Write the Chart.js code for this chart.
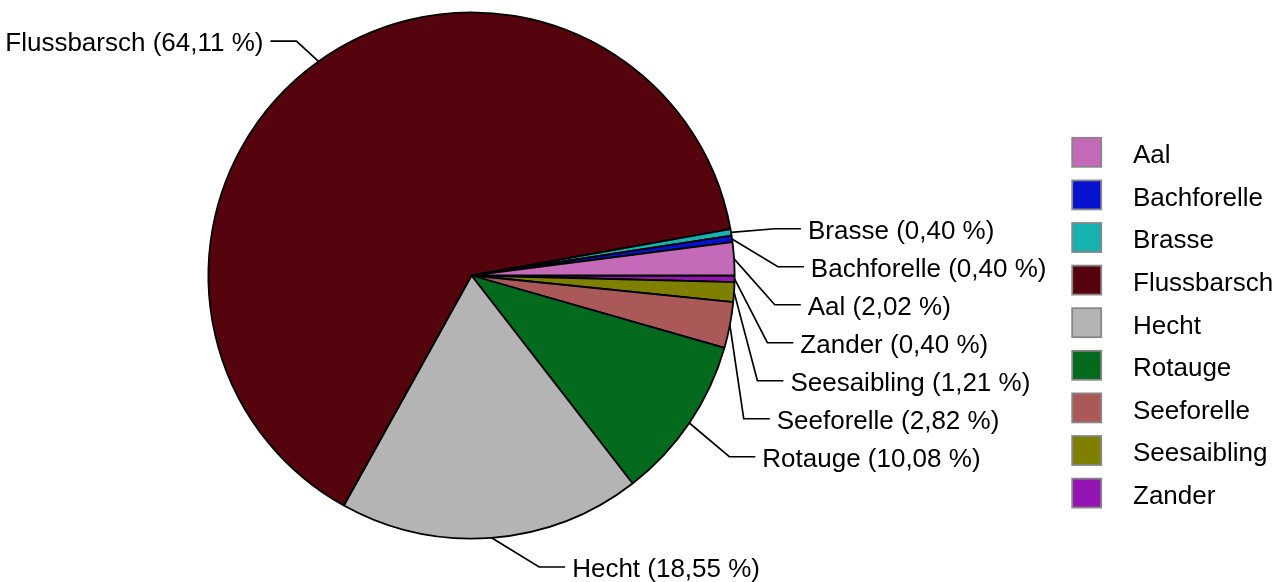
<!DOCTYPE html>
<html><head><meta charset="utf-8">
<script src="https://cdn.jsdelivr.net/npm/chart.js@4.4.1/dist/chart.umd.min.js"></script>
<style>html,body{margin:0;padding:0;background:#fff}#wrap{width:1278px;height:582px;position:relative}</style>
</head><body><div id="wrap"><canvas id="c"></canvas></div>
<script>
// ---- data ----
const categories = ['Aal','Bachforelle','Brasse','Flussbarsch','Hecht','Rotauge','Seeforelle','Seesaibling','Zander'];
const percentages = [2.02, 0.40, 0.40, 64.11, 18.55, 10.08, 2.82, 1.21, 0.40];
const colors = ['#C46AB8','#0612D0','#17B2B0','#55040E','#B4B4B4','#046A1E','#AB5858','#7F7F00','#9414B4'];

const FONT = '26px "Liberation Sans", Arial, sans-serif';

// Chart.js draws clockwise; the reference runs counter-clockwise from 3 o'clock,
// so feed the series in reverse order.
const revLabels = categories.slice().reverse();
const revValues = percentages.slice().reverse();
const revColors = colors.slice().reverse();

function fmt(v){ return v.toFixed(2).replace('.', ',') + ' %'; }

const pieLabels = {
  id: 'pieLabels',
  afterDatasetsDraw(chart){
    const ctx = chart.ctx;
    const meta = chart.getDatasetMeta(0);
    const items = [];
    meta.data.forEach((arc, i) => {
      const p = arc.getProps(['x','y','startAngle','endAngle','outerRadius'], true);
      const mid = (p.startAngle + p.endAngle) / 2;
      const c = Math.cos(mid), s = Math.sin(mid);
      const ex0 = p.x + p.outerRadius * c, ey0 = p.y + p.outerRadius * s;
      const side = c >= 0 ? 1 : -1;
      const k = side > 0 ? 1 : 0.3;
      let dx = c + side * k, dy = s;
      const n = Math.hypot(dx, dy);
      const L = side > 0 ? 40 + 25 * Math.abs(s) : 30;
      const bx = ex0 + L * dx / n, by = ey0 + L * dy / n;
      items.push({i, cx: p.x, cy: p.y, r: p.outerRadius, ex0, ey0, bx, by, side,
                  text: revLabels[i] + ' (' + fmt(revValues[i]) + ')'});
    });
    const spacing = 38;
    [1, -1].forEach(side => {
      const grp = items.filter(d => d.side === side).sort((a, b) => a.by - b.by);
      let prev = -Infinity;
      grp.forEach(d => {
        const ny = Math.max(d.by, prev + spacing);
        if (ny !== d.by) {
          const Re = Math.hypot(d.bx - d.cx, d.by - d.cy);
          const dyy = ny - d.cy;
          const edge = Math.sqrt(Math.max(d.r * d.r - dyy * dyy, 0)) + 10;
          const w = Math.max(Math.sqrt(Math.max(Re * Re - dyy * dyy, 0)), edge);
          d.bx = d.cx + side * w;
          d.by = ny;
        }
        d.by = Math.min(d.by, chart.height - 15);
        prev = d.by;
      });
    });
    ctx.save();
    ctx.strokeStyle = '#000';
    ctx.lineWidth = 1.7;
    ctx.fillStyle = '#000';
    ctx.font = FONT;
    ctx.textBaseline = 'alphabetic';
    items.forEach(d => {
      const hx = d.bx + d.side * 26;
      ctx.beginPath();
      ctx.moveTo(d.ex0, d.ey0);
      ctx.lineTo(d.bx, d.by);
      ctx.lineTo(hx, d.by);
      ctx.stroke();
      ctx.textAlign = d.side > 0 ? 'left' : 'right';
      ctx.fillText(d.text, hx + d.side * 7, d.by + 10);
    });
    ctx.restore();
  }
};

const sideLegend = {
  id: 'sideLegend',
  afterDraw(chart){
    const ctx = chart.ctx;
    const ds = chart.data.datasets[0];
    ctx.save();
    ctx.font = FONT;
    ctx.textBaseline = 'alphabetic';
    ctx.textAlign = 'left';
    // legend listed in alphabetical order (reverse of draw order)
    const n = chart.data.labels.length;
    for (let k = 0; k < n; k++) {
      const idx = n - 1 - k;
      const cy = 152.3 + k * 42.6;
      ctx.fillStyle = ds.backgroundColor[idx];
      ctx.fillRect(1072.2, cy - 14.5, 29, 29);
      ctx.strokeStyle = '#878787';
      ctx.lineWidth = 1.8;
      ctx.strokeRect(1072.2, cy - 14.5, 29, 29);
      ctx.fillStyle = '#000';
      ctx.fillText(chart.data.labels[idx], 1133, cy + 10.8);
    }
    ctx.restore();
  }
};

new Chart(document.getElementById('c'), {
  type: 'pie',
  data: {
    labels: revLabels,
    datasets: [{
      data: revValues,
      backgroundColor: revColors,
      borderColor: '#000',
      borderWidth: 1.8
    }]
  },
  options: {
    responsive: true,
    maintainAspectRatio: false,
    animation: false,
    rotation: 90,
    layout: { padding: { left: 207.5, top: 11.5, right: 542.5, bottom: 42.5 } },
    plugins: {
      legend: { display: false },
      tooltip: { enabled: false }
    }
  },
  plugins: [pieLabels, sideLegend]
});
</script>
</body></html>
